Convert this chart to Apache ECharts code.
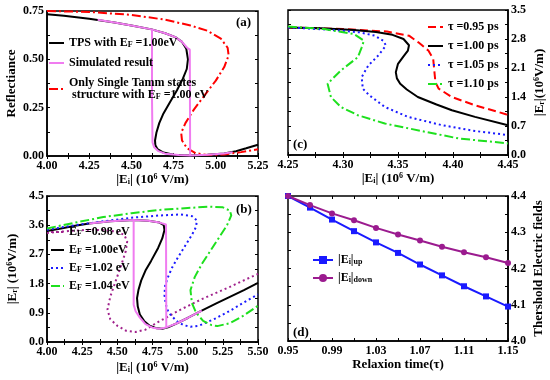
<!DOCTYPE html>
<html><head><meta charset="utf-8">
<script src="https://cdn.jsdelivr.net/npm/echarts@6/dist/echarts.min.js"></script>
<style>html,body{margin:0;padding:0;background:#fff}#c{width:550px;height:380px}</style>
</head><body><div id="c"></div>
<script>
// ---------- tick values ----------
const aXTicks = [4.00, 4.25, 4.50, 4.75, 5.00, 5.25];
const aYTicks = [0.00, 0.25, 0.50, 0.75];
const bXTicks = [4.00, 4.25, 4.50, 4.75, 5.00, 5.25, 5.50];
const bYTicks = [0.0, 0.9, 1.8, 2.7, 3.6, 4.5];
const cXTicks = [4.25, 4.30, 4.35, 4.40, 4.45];
const cYTicks = [0.0, 0.7, 1.4, 2.1, 2.8, 3.5];
const dXTicks = [0.95, 0.99, 1.03, 1.07, 1.11, 1.15];
const dYTicks = [4.0, 4.1, 4.2, 4.3, 4.4];

// ---------- panel (a) ----------
const aTPS = [[4.00,0.733],[4.10,0.725],[4.25,0.71],[4.40,0.69],[4.50,0.675],[4.62,0.655],[4.70,0.635],[4.76,0.615],[4.80,0.59],[4.825,0.555],[4.835,0.50],[4.828,0.45],[4.805,0.40],[4.77,0.34],[4.73,0.28],[4.69,0.22],[4.665,0.17],[4.648,0.12],[4.64,0.08],[4.642,0.055],[4.655,0.035],[4.69,0.018],[4.75,0.007],[4.85,0.003],[4.95,0.006],[5.05,0.013],[5.12,0.025],[5.18,0.04],[5.25,0.058]];
const aSimUpper = [[4.30,0.705],[4.40,0.69],[4.50,0.675],[4.62,0.655],[4.70,0.635],[4.76,0.615],[4.80,0.59],[4.83,0.56],[4.846,0.55],[4.848,0.003],[4.95,0.006],[5.05,0.013],[5.10,0.02]];
const aSimLower = [[4.622,0.655],[4.622,0.30],[4.625,0.07],[4.635,0.045],[4.66,0.025],[4.70,0.012],[4.78,0.005],[4.848,0.003]];
const aSingle = [[4.00,0.75],[4.25,0.745],[4.50,0.73],[4.70,0.705],[4.85,0.675],[4.95,0.648],[5.03,0.607],[5.07,0.56],[5.076,0.52],[5.05,0.46],[5.00,0.39],[4.93,0.31],[4.87,0.24],[4.82,0.17],[4.795,0.12],[4.80,0.08],[4.83,0.04],[4.88,0.015],[4.95,0.005],[5.05,0.008],[5.15,0.02],[5.25,0.035]];

// ---------- panel (b) ----------
const bEF098 = [[4.00,3.36],[4.15,3.42],[4.30,3.46],[4.40,3.45],[4.50,3.40],[4.55,3.30],[4.57,3.10],[4.56,2.80],[4.53,2.40],[4.49,1.90],[4.45,1.40],[4.43,1.00],[4.45,0.70],[4.50,0.50],[4.56,0.35],[4.63,0.31],[4.70,0.38],[4.78,0.59],[4.95,1.00],[5.10,1.32],[5.30,1.70],[5.50,2.10]];
const bEF100 = [[4.00,3.42],[4.10,3.50],[4.20,3.58],[4.30,3.65],[4.45,3.72],[4.62,3.76],[4.72,3.74],[4.80,3.68],[4.83,3.60],[4.835,3.45],[4.82,3.20],[4.79,2.90],[4.74,2.50],[4.70,2.20],[4.67,1.90],[4.65,1.60],[4.64,1.35],[4.645,1.10],[4.66,0.85],[4.69,0.65],[4.73,0.50],[4.78,0.42],[4.82,0.41],[4.86,0.45],[4.92,0.57],[5.00,0.74],[5.10,0.97],[5.20,1.18],[5.30,1.39],[5.40,1.60],[5.50,1.82]];
const bSimUpper = [[4.30,3.65],[4.45,3.72],[4.616,3.76],[4.72,3.74],[4.80,3.68],[4.846,3.62],[4.848,0.45],[4.92,0.57],[5.00,0.74],[5.10,0.97]];
const bSimLower = [[4.616,3.76],[4.616,1.15],[4.63,0.95],[4.66,0.75],[4.70,0.55],[4.75,0.44],[4.80,0.41],[4.848,0.45]];
const bEF102 = [[4.00,3.46],[4.20,3.60],[4.40,3.72],[4.60,3.83],[4.80,3.90],[4.95,3.93],[5.03,3.88],[5.065,3.75],[5.06,3.55],[5.03,3.30],[4.98,2.95],[4.93,2.60],[4.89,2.30],[4.86,2.00],[4.84,1.75],[4.835,1.45],[4.845,1.15],[4.865,0.90],[4.92,0.65],[4.97,0.52],[5.02,0.47],[5.08,0.50],[5.20,0.73],[5.30,0.96],[5.40,1.22],[5.50,1.47]];
const bEF104 = [[4.00,3.50],[4.20,3.68],[4.40,3.85],[4.60,3.97],[4.80,4.07],[5.00,4.13],[5.15,4.17],[5.25,4.15],[5.30,4.05],[5.31,3.90],[5.28,3.60],[5.22,3.20],[5.16,2.80],[5.10,2.40],[5.05,2.00],[5.02,1.60],[5.03,1.20],[5.06,0.90],[5.11,0.65],[5.17,0.52],[5.21,0.49],[5.30,0.58],[5.40,0.82],[5.50,1.12]];

// ---------- panel (c) ----------
const cT095 = [[4.25,3.08],[4.30,3.04],[4.34,2.98],[4.36,2.88],[4.3685,2.72],[4.3776,2.52],[4.382,2.32],[4.383,2.04],[4.384,1.76],[4.387,1.60],[4.399,1.40],[4.42,1.20],[4.448,0.985],[4.45,0.97]];
const cT100 = [[4.25,3.08],[4.28,3.06],[4.31,3.02],[4.33,2.97],[4.345,2.90],[4.355,2.80],[4.36,2.65],[4.359,2.52],[4.355,2.38],[4.35,2.20],[4.348,2.00],[4.349,1.85],[4.352,1.72],[4.358,1.58],[4.368,1.40],[4.385,1.22],[4.399,1.08],[4.42,0.92],[4.45,0.72]];
const cT105 = [[4.25,3.08],[4.29,3.02],[4.315,2.96],[4.329,2.88],[4.337,2.75],[4.339,2.64],[4.332,2.40],[4.323,2.16],[4.317,1.88],[4.318,1.60],[4.324,1.44],[4.338,1.16],[4.359,0.92],[4.39,0.72],[4.42,0.58],[4.45,0.48]];
const cT110 = [[4.25,3.10],[4.283,3.04],[4.31,2.92],[4.319,2.76],[4.317,2.60],[4.3135,2.36],[4.298,2.04],[4.286,1.72],[4.289,1.40],[4.298,1.16],[4.3135,0.96],[4.338,0.76],[4.375,0.56],[4.405,0.40],[4.45,0.28]];

// ---------- panel (d) ----------
const dTau = [0.95, 0.97, 0.99, 1.01, 1.03, 1.05, 1.07, 1.09, 1.11, 1.13, 1.15];
const dUp = [4.400, 4.368, 4.335, 4.303, 4.272, 4.243, 4.211, 4.181, 4.151, 4.123, 4.095];
const dDown = [4.400, 4.375, 4.352, 4.333, 4.312, 4.294, 4.277, 4.260, 4.245, 4.231, 4.215];

// ---------- styling ----------
const FONT = 'Liberation Serif';
const rich = {
  sub: {fontSize: 8, fontWeight: 'bold', fontFamily: FONT, verticalAlign: 'bottom', color: '#000'},
  sup: {fontSize: 8, fontWeight: 'bold', fontFamily: FONT, verticalAlign: 'top', color: '#000'}
};
const txt = (size) => ({fontFamily: FONT, fontWeight: 'bold', fontSize: size, color: '#000', rich: rich});

const grids = [
  {left: 47, top: 11, width: 211, height: 145},
  {left: 288, top: 10, width: 220, height: 145},
  {left: 47, top: 196, width: 211, height: 146},
  {left: 288, top: 196, width: 220, height: 145}
];

// tick positions incl. midway minor ticks
function withMinor(t) {
  const out = [];
  for (let i = 0; i < t.length; i++) {
    out.push(t[i]);
    if (i < t.length - 1) out.push((t[i] + t[i + 1]) / 2);
  }
  return out;
}

function xAx(g, ticks, dec, name, gap) {
  return {type: 'value', gridIndex: g, position: 'bottom', min: ticks[0], max: ticks[ticks.length - 1],
    name: name, nameLocation: 'middle', nameGap: gap, nameTextStyle: txt(13),
    axisLine: {show: true, lineStyle: {color: '#000', width: 1.5}},
    axisTick: {show: true, inside: true, length: 3, customValues: withMinor(ticks), lineStyle: {color: '#000'}},
    axisLabel: {customValues: ticks, margin: 4, formatter: v => v.toFixed(dec), fontFamily: FONT, fontWeight: 'bold', fontSize: 12, color: '#000'},
    splitLine: {show: false}};
}
function yAx(g, ticks, dec, name, gap, pos) {
  return {type: 'value', gridIndex: g, position: pos, min: ticks[0], max: ticks[ticks.length - 1],
    name: name, nameLocation: 'middle', nameGap: gap, nameTextStyle: txt(13),
    axisLine: {show: true, lineStyle: {color: '#000', width: 1.5}},
    axisTick: {show: true, inside: true, length: 3, customValues: withMinor(ticks), lineStyle: {color: '#000'}},
    axisLabel: {customValues: ticks, margin: 3, formatter: v => v.toFixed(dec), fontFamily: FONT, fontWeight: 'bold', fontSize: 12, color: '#000'},
    splitLine: {show: false}};
}
function mirror(g, ticks, pos, isY) {
  return {type: 'value', gridIndex: g, position: pos, min: ticks[0], max: ticks[ticks.length - 1],
    axisLine: {show: false}, axisLabel: {show: false}, splitLine: {show: false},
    axisTick: {show: true, inside: true, length: 3, customValues: withMinor(ticks), lineStyle: {color: '#000'}}};
}

const EiName = '|E{sub|i}| (10{sup|6} V/m)';
const xAxis = [
  xAx(0, aXTicks, 2, EiName, 15),
  xAx(1, cXTicks, 2, EiName, 15),
  xAx(2, bXTicks, 2, EiName, 19),
  xAx(3, dXTicks, 2, 'Relaxion time(τ)', 17),
  mirror(0, aXTicks, 'top'), mirror(1, cXTicks, 'top'), mirror(2, bXTicks, 'top'), mirror(3, dXTicks, 'top')
];
const yAxis = [
  yAx(0, aYTicks, 2, 'Reflectiance', 29, 'left'),
  yAx(1, cYTicks, 1, '|E{sub|r}|(10{sup|6}V/m)', 25, 'right'),
  yAx(2, bYTicks, 1, '|E{sub|r}| (10{sup|6}V/m)', 28, 'left'),
  yAx(3, dYTicks, 1, 'Thershold Electric fields', 24, 'right'),
  mirror(0, aYTicks, 'right'), mirror(1, cYTicks, 'left'), mirror(2, bYTicks, 'right'), mirror(3, dYTicks, 'left')
];

const DASHDOT = [9, 3, 2, 3];
const DOT = [2, 3];
const DASH = [8, 4];
function line(name, g, data, color, type, width, z) {
  return {type: 'line', name: name, xAxisIndex: g, yAxisIndex: g, data: data, symbol: 'none', showSymbol: false,
    lineStyle: {color: color, width: width || 2, type: type || 'solid'}, itemStyle: {color: color}, z: z || 2, silent: true};
}
const PINK = '#f07cf0', PURPLE = '#a0228c', BLUE = '#1a1aff', GREEN = '#1ee01e', RED = '#ff0000';

const series = [
  line('a1', 0, aTPS, '#000', 'solid', 2, 2),
  line('a2', 0, aSimUpper, PINK, 'solid', 2, 3),
  line('a2', 0, aSimLower, PINK, 'solid', 2, 3),
  line('a3', 0, aSingle, RED, DASHDOT, 2, 2),
  line('c1', 1, cT095, RED, DASH, 2),
  line('c2', 1, cT100, '#000', 'solid', 2),
  line('c3', 1, cT105, BLUE, DOT, 2),
  line('c4', 1, cT110, GREEN, DASHDOT, 2),
  line('b1', 2, bEF098, PURPLE, DOT, 2),
  line('b2', 2, bEF100, '#000', 'solid', 2, 2),
  line('b3', 2, bEF102, BLUE, DOT, 2),
  line('b4', 2, bEF104, GREEN, DASHDOT, 2),
  line('bs', 2, bSimUpper, PINK, 'solid', 2, 3),
  line('bs', 2, bSimLower, PINK, 'solid', 2, 3),
  {type: 'line', name: 'd1', xAxisIndex: 3, yAxisIndex: 3, data: dTau.map((t, i) => [t, dUp[i]]), symbol: 'rect', symbolSize: 6,
    lineStyle: {color: BLUE, width: 2}, itemStyle: {color: BLUE}, silent: true},
  {type: 'line', name: 'd2', xAxisIndex: 3, yAxisIndex: 3, data: dTau.map((t, i) => [t, dDown[i]]), symbol: 'circle', symbolSize: 6,
    lineStyle: {color: '#9b1b8f', width: 2}, itemStyle: {color: '#9b1b8f'}, silent: true}
];

const labels = {
  a1: 'TPS with E{sub|F} =1.00eV',
  a2: 'Simulated result',
  a3: 'Only Single Tamm states\n structure with E{sub|F} =1.00 eV',
  c1: 'τ =0.95 ps', c2: 'τ =1.00 ps', c3: 'τ =1.05 ps', c4: 'τ =1.10 ps',
  b1: 'E{sub|F} =0.98 eV', b2: 'E{sub|F} =1.00eV', b3: 'E{sub|F} =1.02 eV', b4: 'E{sub|F} =1.04 eV',
  d1: '|E{sub|i}|{sub|up}', d2: '|E{sub|i}|{sub|down}'
};
function lg(names, left, top, gap, w, noSymbol) {
  const o = {data: names, left: left, top: top, orient: 'vertical', itemGap: gap, itemWidth: w, itemHeight: 10,
    itemTextGap: 4, selectedMode: false, padding: 0, formatter: n => labels[n], textStyle: txt(12)};
  if (noSymbol) o.itemStyle = {color: 'rgba(0,0,0,0)', borderWidth: 0, borderColor: 'rgba(0,0,0,0)', opacity: 0};
  return o;
}
const legend = [
  lg(['a1', 'a2', 'a3'], 48, 37, 8, 15, true),
  lg(['c1', 'c2', 'c3', 'c4'], 427, 21, 7, 15, true),
  lg(['b1', 'b2', 'b3', 'b4'], 50, 226, 6, 13, true),
  lg(['d1', 'd2'], 312, 254, 6, 20, false)
];

const title = [
  {text: '(a)', left: 236, top: 16, textStyle: txt(13), padding: 0},
  {text: '(c)', left: 293, top: 138, textStyle: txt(13), padding: 0},
  {text: '(b)', left: 236, top: 203, textStyle: txt(13), padding: 0},
  {text: '(d)', left: 293, top: 326, textStyle: txt(13), padding: 0}
];

const chart = echarts.init(document.getElementById('c'), null, {renderer: 'canvas'});
chart.setOption({
  animation: false,
  backgroundColor: '#fff',
  grid: grids.map(g => Object.assign({show: true, borderColor: '#000', borderWidth: 1.5, backgroundColor: 'transparent'}, g)),
  xAxis: xAxis, yAxis: yAxis, series: series, legend: legend, title: title
});
</script></body></html>
